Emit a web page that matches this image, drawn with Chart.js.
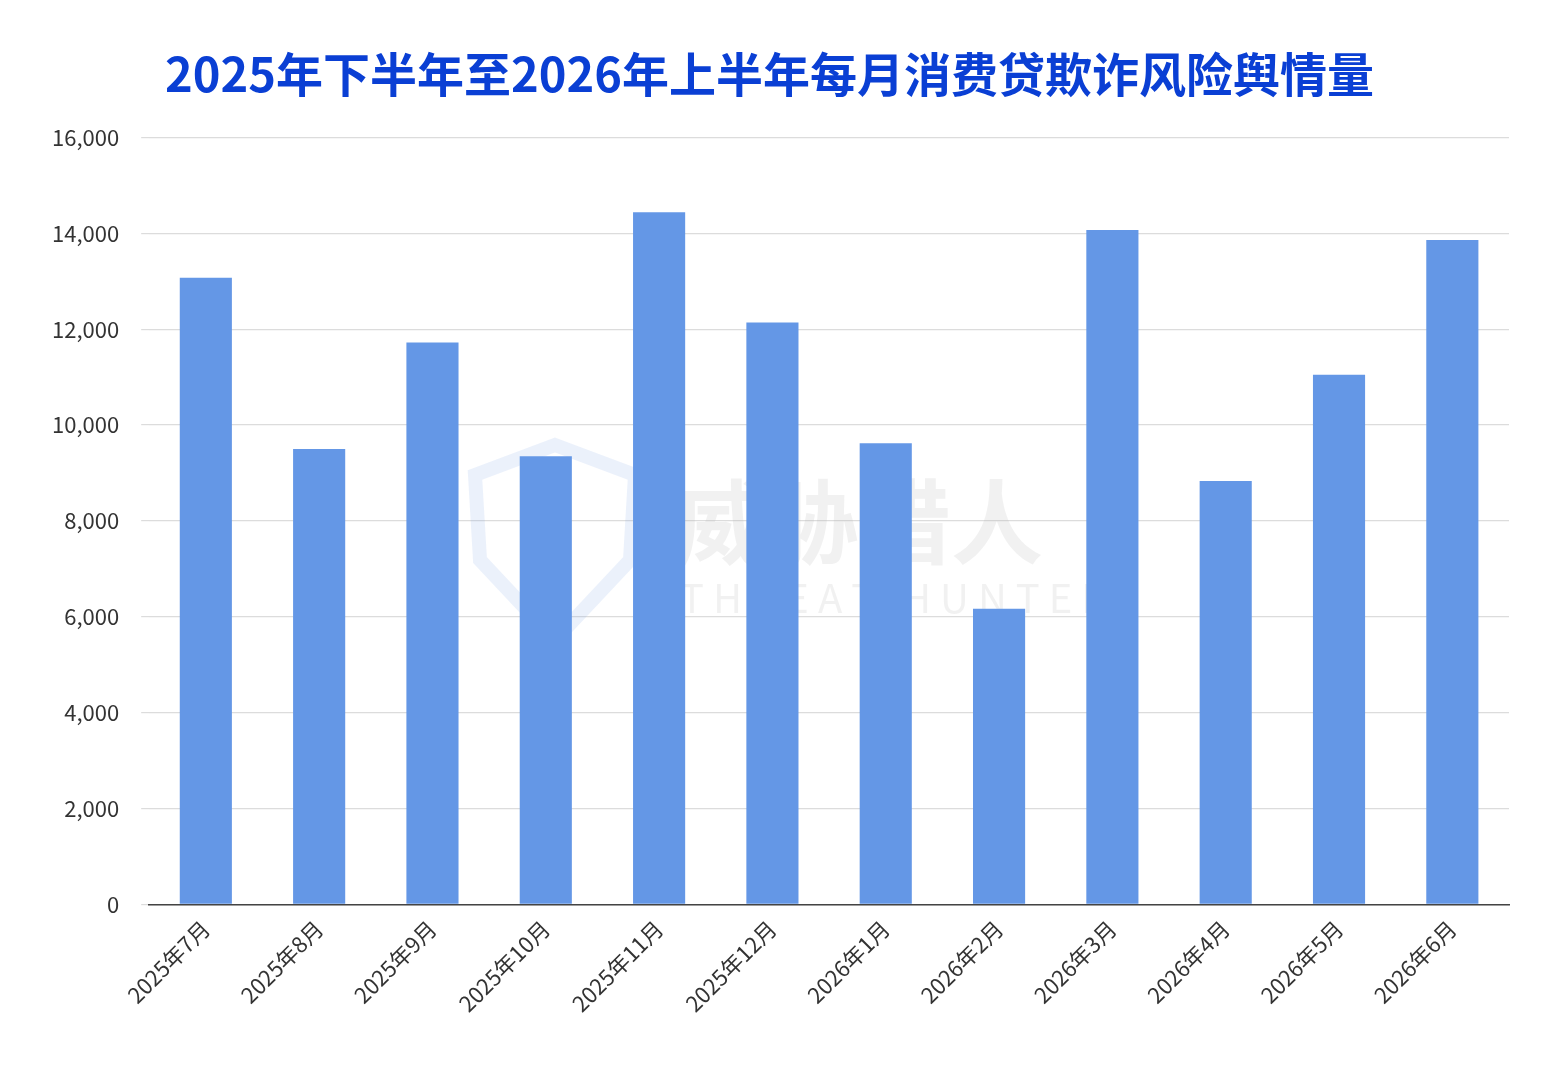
<!DOCTYPE html>
<html><head><meta charset="utf-8">
<script src="https://cdn.jsdelivr.net/npm/chart.js@4/dist/chart.umd.min.js"></script>
<style>
html,body{margin:0;padding:0;background:#fff;}
#wrap{width:1556px;height:1086px;position:relative;}
</style></head>
<body><div id="wrap"><canvas id="c"></canvas></div>
<script>
const TITLE = '2025年下半年至2026年上半年每月消费贷欺诈风险舆情量';
const MONTHS = ['2025年7月','2025年8月','2025年9月','2025年10月','2025年11月','2025年12月','2026年1月','2026年2月','2026年3月','2026年4月','2026年5月','2026年6月'];
const VALUES = [13070, 9500, 11720, 9350, 14440, 12140, 9620, 6170, 14070, 8830, 11050, 13860];

const font = '"Noto Sans CJK SC", "Noto Sans", sans-serif';

// faint watermark behind the bars
const watermark = {
  id: 'watermark',
  beforeDatasetsDraw(chart) {
    const c = chart.ctx;
    c.save();
    c.fillStyle = 'rgba(180,180,180,0.18)';
    c.font = 'bold 92px ' + font;
    c.textBaseline = 'middle';
    c.fillText('威胁猎人', 675, 522);
    c.font = '40px ' + font;
    c.fillText('T H R E A T   H U N T E R', 680, 598);
    c.strokeStyle = 'rgba(120,160,230,0.15)';
    c.lineWidth = 14;
    c.beginPath();
    c.moveTo(555, 445); c.lineTo(635, 475); c.lineTo(630, 560);
    c.lineTo(555, 640); c.lineTo(480, 560); c.lineTo(475, 475); c.closePath();
    c.stroke();
    c.restore();
  }
};

new Chart(document.getElementById('c'), {
  type: 'bar',
  data: { labels: MONTHS, datasets: [{ data: VALUES, backgroundColor: '#6497e6', barPercentage: 0.46, categoryPercentage: 1 }] },
  options: {
    responsive: true, maintainAspectRatio: false, animation: false,
    layout: { padding: { left: 30, right: 47, top: 26, bottom: 66 } },
    plugins: {
      legend: { display: false }, tooltip: { enabled: false },
      title: { display: true, text: TITLE, color: '#0a3fd4', font: { family: font, size: 47, weight: 'bold' }, padding: { top: 20, bottom: 35 } }
    },
    scales: {
      x: {
        grid: { display: false },
        border: { color: '#444', width: 1.5 },
        ticks: { color: '#333', maxRotation: 45, minRotation: 45, font: { family: font, size: 22 } }
      },
      y: {
        min: 0, max: 16000,
        border: { display: false },
        grid: { color: '#dcdcdc', lineWidth: 1.2 },
        ticks: { stepSize: 2000, color: '#333', padding: 22, font: { family: font, size: 22 },
          callback: v => v.toLocaleString('en-US') }
      }
    }
  },
  plugins: [watermark]
});
</script></body></html>
